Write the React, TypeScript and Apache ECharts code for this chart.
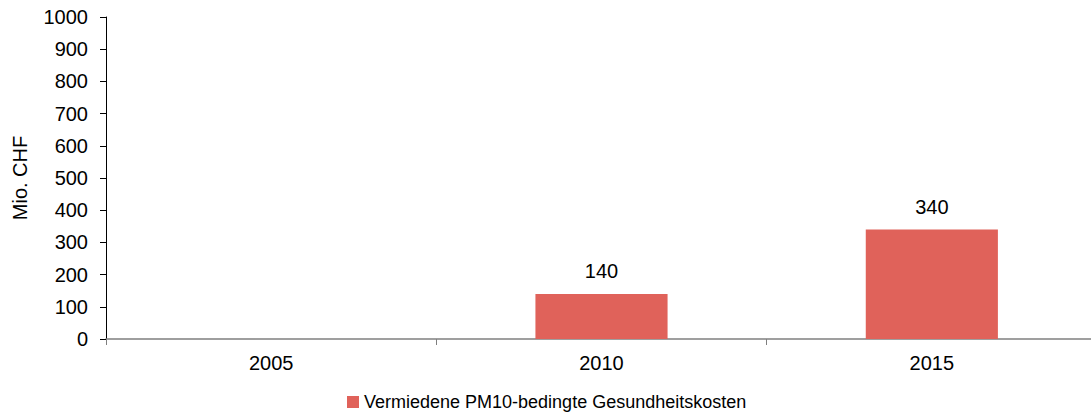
import React, { useEffect, useRef } from "react";
import * as echarts from "echarts";

const categories = ["2005", "2010", "2015"];
const values: (number | null)[] = [null, 140, 340];
const seriesName = "Vermiedene PM10-bedingte Gesundheitskosten";
const yAxisName = "Mio. CHF";

export default function App() {
  const ref = useRef<HTMLDivElement>(null);
  useEffect(() => {
    document.body.style.margin = "0";
    const chart = echarts.init(ref.current!, undefined, { renderer: "svg" });
    const font = "'Liberation Sans', Arial, sans-serif";
    chart.setOption({
      animation: false,
      textStyle: { fontFamily: font },
      grid: { left: 106, top: 17, width: 991, height: 322, containLabel: false },
      legend: {
        bottom: 2,
        left: 342,
        itemWidth: 12,
        itemHeight: 12,
        itemGap: 6,
        icon: "rect",
        textStyle: { fontSize: 18, color: "#000", fontFamily: font },
        data: [seriesName],
      },
      xAxis: {
        type: "category",
        data: categories,
        axisLine: { lineStyle: { color: "#7f7f7f", width: 1.5 } },
        axisTick: { show: true, length: 6, lineStyle: { color: "#7f7f7f" } },
        axisLabel: { fontSize: 20, color: "#000", margin: 14, fontFamily: font },
      },
      yAxis: {
        type: "value",
        min: 0,
        max: 1000,
        interval: 100,
        name: yAxisName,
        nameLocation: "middle",
        nameGap: 76,
        nameRotate: 90,
        nameTextStyle: { fontSize: 20, color: "#000", fontFamily: font },
        splitLine: { show: false },
        axisLine: { show: true, lineStyle: { color: "#000" } },
        axisTick: { show: true, length: 6, lineStyle: { color: "#000" } },
        axisLabel: {
          fontSize: 20,
          color: "#000",
          margin: 18,
          fontFamily: font,
          formatter: (v: number) => String(v),
        },
      },
      series: [
        {
          type: "bar",
          name: seriesName,
          data: values,
          barWidth: "40%",
          itemStyle: { color: "#E0625A" },
          label: {
            show: true,
            position: "top",
            distance: 13,
            fontSize: 20,
            color: "#000",
            fontFamily: font,
          },
        },
      ],
    });
    return () => chart.dispose();
  }, []);
  return (
    <div style={{ width: 1091, height: 418, overflow: "hidden" }}>
      <div ref={ref} style={{ width: 1098, height: 418 }} />
    </div>
  );
}
